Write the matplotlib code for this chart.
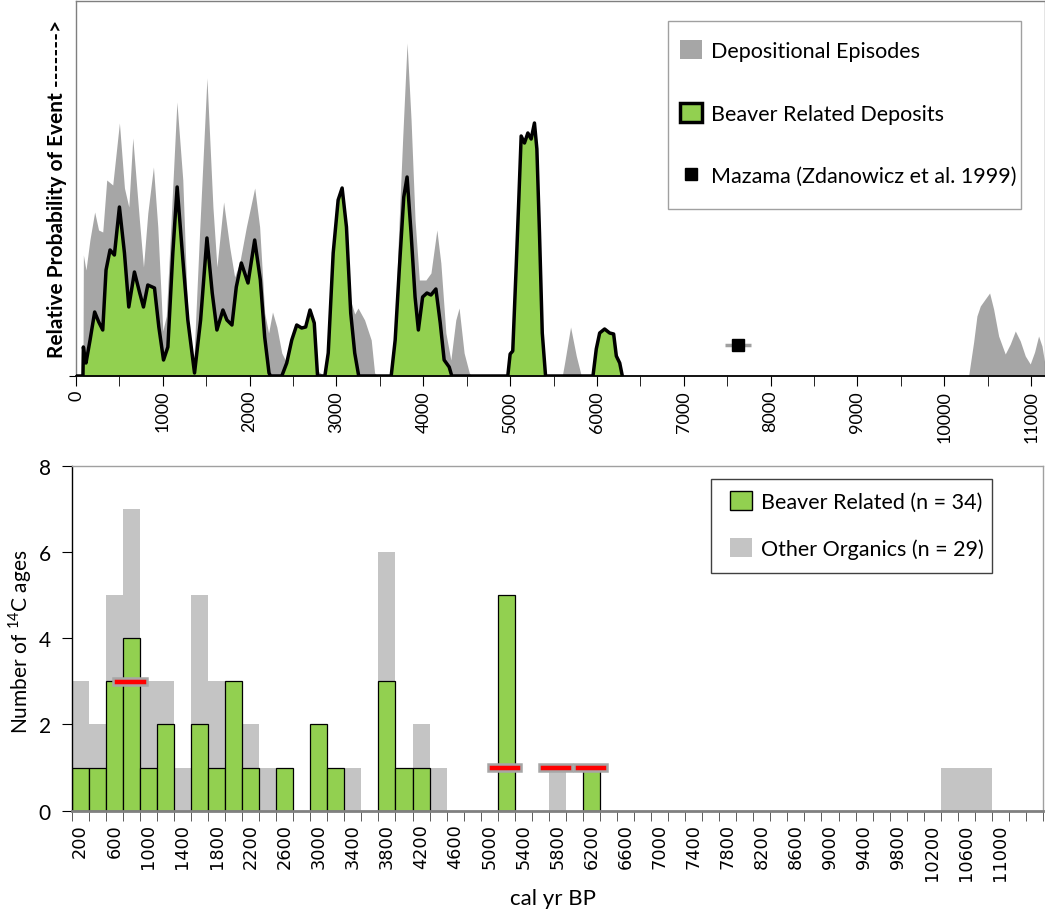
import numpy as np
import matplotlib.pyplot as plt
from matplotlib.patches import Patch, Rectangle
from matplotlib.lines import Line2D

plt.rcParams['font.family'] = ['Lato', 'DejaVu Sans']
plt.rcParams['mathtext.fontset'] = 'custom'
plt.rcParams['mathtext.rm'] = 'Lato'

# ---- top panel: summed probability curves (cal yr BP, relative height) ----
dep_yr = [0, 80, 85, 115, 160, 215, 260, 308, 354, 423, 500, 558, 608, 654, 730, 777,
          827, 892, 942, 1000, 1040, 1077, 1162, 1230, 1288, 1354, 1423, 1508, 1577,
          1623, 1700, 1770, 1827, 1885, 1962, 2058, 2115, 2173, 2218, 2263, 2313, 2370,
          2427, 2485, 2542, 2599, 2645, 2695, 2744, 2782, 2866, 2905, 2962, 3019, 3065,
          3115, 3164, 3210, 3248, 3324, 3400, 3439, 3477, 3640, 3680, 3706, 3763, 3813,
          3859, 3905, 3954, 4030, 4088, 4156, 4202, 4260, 4317, 4374, 4412, 4470, 4530,
          4560, 4970, 5000, 5030, 5070, 5100, 5127, 5165, 5204, 5242, 5280, 5308, 5338,
          5370, 5408, 5600, 5627, 5696, 5762, 5820, 5954, 5992, 6031, 6088, 6146, 6192,
          6223, 6262, 6292, 10280, 10338, 10376, 10415, 10472, 10522, 10568, 10626,
          10702, 10760, 10818, 10875, 10933, 10990, 11040, 11086, 11125, 11163]
dep_p = [0, 0, 121, 106, 136, 164, 146, 144, 196, 191, 253, 188, 169, 238, 156, 109,
         163, 209, 149, 45, 60, 123, 274, 196, 56, 9, 143, 298, 169,
         109, 174, 129, 99, 113, 149, 188, 149, 63, 43, 64, 49, 23,
         13, 36, 51, 48, 49, 66, 53, 5, 0, 23, 123, 176, 188,
         149, 75, 62, 68, 56, 36, 3, 0, 0, 40, 123, 239, 333,
         256, 156, 96, 96, 103, 146, 113, 43, 16, 56, 68, 23, 3,
         0, 0, 22, 25, 110, 177, 240, 233, 243, 237, 253, 227, 143,
         43, 0, 0, 13, 49, 20, 0, 0, 27, 43, 47, 43, 42,
         20, 13, 0, 0, 34, 60, 70, 77, 83, 67, 40,
         22, 32, 45, 35, 20, 12, 24, 40, 30, 10]

bvr_yr = [0, 80, 85, 100, 115, 162, 215, 262, 308, 346, 392, 442, 500, 558, 608, 673,
          731, 777, 827, 904, 954, 1008, 1058, 1115, 1165, 1231, 1288, 1365, 1435, 1508,
          1569, 1623, 1692, 1738, 1796, 1846, 1904, 1981, 2058, 2123, 2173, 2223, 2240,
          2370, 2427, 2485, 2542, 2599, 2645, 2695, 2744, 2782, 2866, 2905, 2962, 3019,
          3065, 3115, 3164, 3210, 3256, 3630, 3676, 3725, 3775, 3813, 3859, 3905, 3943,
          3992, 4042, 4088, 4145, 4195, 4240, 4298, 4328, 4973, 5000, 5030, 5070, 5100,
          5127, 5165, 5204, 5242, 5280, 5308, 5338, 5370, 5408, 5954, 5992, 6031, 6088,
          6146, 6192, 6223, 6262, 6292]
bvr_p = [0, 0, 29, 20, 13, 36, 64, 54, 46, 106, 126, 121, 169, 123, 69, 104,
         84, 69, 91, 88, 49, 16, 29, 123, 189, 116, 56, 3, 56, 138,
         83, 46, 66, 56, 51, 89, 113, 93, 136, 96, 39, 3, 0,
         0, 13, 36, 51, 48, 49, 66, 53, 0, 0, 23, 123, 176,
         188, 149, 63, 23, 0, 0, 36, 109, 179, 199, 143, 79, 46,
         79, 83, 81, 87, 53, 16, 9, 0, 0, 22, 25, 110, 177,
         240, 233, 243, 237, 253, 227, 143, 43, 0, 0, 27, 43, 47,
         43, 42, 20, 13, 0]

mazama_yr = 7627
mazama_err = 150
mazama_p = 31

# ---- bottom panel: histogram of 14C ages, 200-yr bins ----
bins = list(range(200, 11401, 200))
beaver = [1, 1, 3, 4, 1, 2, 0, 2, 1, 3,
          1, 0, 1, 0, 2, 1, 0, 0, 3, 1,
          1, 0, 0, 0, 0, 5, 0, 0, 0, 0,
          1, 0, 0, 0, 0, 0, 0, 0, 0, 0,
          0, 0, 0, 0, 0, 0, 0, 0, 0, 0,
          0, 0, 0, 0, 0, 0, 0]
other = [2, 1, 2, 3, 2, 1, 1, 3, 2, 0,
         1, 1, 0, 0, 0, 0, 1, 0, 3, 0,
         1, 1, 0, 0, 0, 0, 0, 0, 1, 0,
         0, 0, 0, 0, 0, 0, 0, 0, 0, 0,
         0, 0, 0, 0, 0, 0, 0, 0, 0, 0,
         0, 1, 1, 1, 0, 0, 0]
red_age = [784, 5177, 5782, 6190]
red_n = [3, 1, 1, 1]
red_span = 390

green = '#92D050'
dep_grey = '#A6A6A6'
org_grey = '#C4C4C4'
W, H = 1045, 920

fig = plt.figure(figsize=(10.45, 9.2), dpi=100)

# ================= top =================
ax = fig.add_axes([76 / W, 1 - 377 / H, 969 / W, 375 / H])
ax.fill_between(dep_yr, dep_p, color=dep_grey, lw=0, zorder=1)
ax.fill_between(bvr_yr, bvr_p, color=green, lw=0, zorder=2)
ax.plot(bvr_yr, bvr_p, color='black', lw=2.5, solid_joinstyle='round', zorder=3)
ax.errorbar(mazama_yr, mazama_p, xerr=mazama_err, fmt='s', color='black', ms=9,
            ecolor='#A0A0A0', elinewidth=2.5, capsize=0, zorder=4)
ax.set_xlim(0, 11160)
ax.set_ylim(0, 375)
ax.set_xticks(range(0, 11001, 1000))
ax.set_xticks(range(500, 11001, 1000), minor=True)
ax.tick_params(axis='x', which='both', direction='out', length=7, color='black')
ax.tick_params(axis='x', which='major', labelsize=13, labelrotation=90, pad=3)
ax.set_yticks([0])
ax.set_yticklabels([''])
ax.tick_params(axis='y', length=5)
for s in ['left', 'top', 'right']:
    ax.spines[s].set_color('#7F7F7F')
    ax.spines[s].set_linewidth(1)
ax.spines['bottom'].set_color('black')
ax.spines['bottom'].set_linewidth(1.3)

ax.add_patch(Rectangle((668 / W, 1 - 210 / H), 353 / W, 188 / H, transform=fig.transFigure,
                       facecolor='white', edgecolor='#A0A0A0', lw=1, clip_on=False,
                       zorder=4.5))
h_top = [Patch(facecolor=dep_grey, edgecolor='none'),
         Patch(facecolor=green, edgecolor='black', linewidth=2.5),
         Line2D([], [], marker='s', color='black', ls='none', ms=9)]
ax.legend(h_top, ['Depositional Episodes', 'Beaver Related Deposits',
                  'Mazama (Zdanowicz et al. 1999)'],
          loc='upper left', bbox_to_anchor=(680 / W, 1 - 41 / H),
          bbox_transform=fig.transFigure, fontsize=15.5, frameon=False,
          labelspacing=1.93, borderpad=0, handlelength=1.0, handleheight=1.0,
          handletextpad=0.45, borderaxespad=0)

fig.text(57 / W, 1 - 189 / H, 'Relative Probability of Event ------->',
         rotation=90, ha='center', va='center', fontsize=15, fontweight='bold')

# ================= bottom =================
ax2 = fig.add_axes([71.7 / W, 1 - 811.7 / H, (1043 - 71.7) / W, 345 / H])
b = np.array(bins)
bv = np.array(beaver)
ot = np.array(other)
m_o = ot > 0
ax2.bar(b[m_o], ot[m_o], width=200, bottom=bv[m_o], color=org_grey, lw=0, zorder=1)
m_b = bv > 0
ax2.bar(b[m_b], bv[m_b], width=200, color=green, edgecolor='black', lw=0.9, zorder=2)
ra = np.array(red_age)
ax2.barh(red_n, red_span, left=ra - red_span / 2, height=0.15, color='#FF0000',
         edgecolor='#A6A6A6', lw=1.8, zorder=3)

ax2.set_xlim(100, 11500)
ax2.set_ylim(0, 8)
ax2.set_xticks(range(200, 11001, 400))
ax2.set_xticklabels([str(v) for v in range(200, 11001, 400)], rotation=90,
                    family='DejaVu Sans', fontsize=12.8)
ax2.set_xticks(range(100, 11501, 200), minor=True)
ax2.tick_params(axis='x', which='major', length=0, pad=9)
ax2.tick_params(axis='x', which='minor', direction='out', length=7, color='#404040')
ax2.set_yticks(range(0, 9, 2))
ax2.tick_params(axis='y', direction='out', length=7, labelsize=15, pad=8)
ax2.spines['left'].set_color('black')
ax2.spines['left'].set_linewidth(1)
ax2.spines['bottom'].set_color('#808080')
ax2.spines['bottom'].set_linewidth(2)
for s in ['top', 'right']:
    ax2.spines[s].set_color('#A0A0A0')
    ax2.spines[s].set_linewidth(1)

ax2.add_patch(Rectangle((711 / W, 1 - 574 / H), 281 / W, 94 / H, transform=fig.transFigure,
                        facecolor='white', edgecolor='#404040', lw=1, clip_on=False,
                        zorder=4.5))
h_bot = [Patch(facecolor=green, edgecolor='black', linewidth=1),
         Patch(facecolor=org_grey, edgecolor='none')]
ax2.legend(h_bot, ['Beaver Related (n = 34)', 'Other Organics (n = 29)'],
           loc='upper left', bbox_to_anchor=(730 / W, 1 - 492 / H),
           bbox_transform=fig.transFigure, fontsize=15.5, frameon=False,
           labelspacing=1.19, borderpad=0, handlelength=1.0, handleheight=1.0,
           handletextpad=0.45, borderaxespad=0)

fig.text(20 / W, 1 - 642 / H, r'Number of $^{\mathrm{14}}$C ages', rotation=90,
         ha='center', va='center', fontsize=15)
fig.text(553 / W, 1 - 899 / H, 'cal yr BP', ha='center', va='center', fontsize=16)

fig.savefig('out.png', dpi=100)
